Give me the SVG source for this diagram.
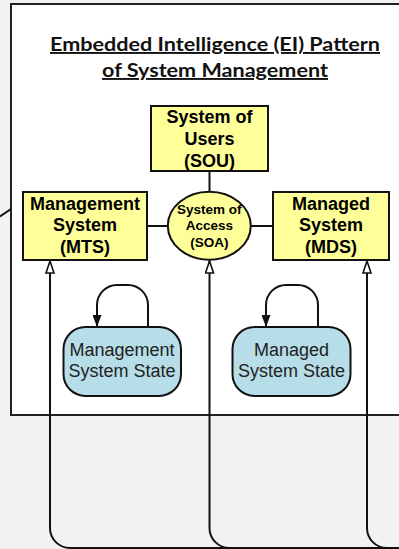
<svg xmlns="http://www.w3.org/2000/svg" width="399" height="549" viewBox="0 0 399 549">
<style>
.box{fill:#ffff99;stroke:#111;stroke-width:2}
.state{fill:#b7dde8;stroke:#111;stroke-width:2}
.bt{font-family:"Liberation Sans",Arial,sans-serif;font-weight:bold;font-size:18px;fill:#000;text-anchor:middle}
.st{font-family:"Liberation Sans",Arial,sans-serif;font-size:18px;fill:#222;text-anchor:middle}
.soa{font-family:"Liberation Sans",Arial,sans-serif;font-weight:bold;font-size:13.5px;fill:#000;text-anchor:middle}
.title{font-family:Lato,"Open Sans",sans-serif;font-weight:bold;font-size:19px;fill:#111;text-anchor:middle;text-decoration:underline}
.ln{fill:none;stroke:#111;stroke-width:2}
</style>
<defs>
<marker id="open" markerUnits="userSpaceOnUse" viewBox="0 0 14 10" refX="13" refY="5" markerWidth="14" markerHeight="10" orient="auto">
<path d="M1,1 L13,5 L1,9 z" fill="#fff" stroke="#111" stroke-width="1.6"/>
</marker>
<marker id="fill" markerUnits="userSpaceOnUse" viewBox="0 0 12 9" refX="12" refY="4.5" markerWidth="12" markerHeight="9" orient="auto">
<path d="M0,0 L12,4.5 L0,9 z" fill="#111"/>
</marker>
</defs>
<rect x="0" y="0" width="399" height="549" fill="#f2f2f2"/>
<g id="frame">
<rect x="11" y="4" width="400" height="411" fill="#fff" stroke="#222" stroke-width="2"/>
<text class="title" x="215" y="51" textLength="330" lengthAdjust="spacingAndGlyphs">Embedded Intelligence (EI) Pattern</text>
<text class="title" x="215" y="77" textLength="226" lengthAdjust="spacingAndGlyphs">of System Management</text>
</g>
<g id="connectors">
<path class="ln" d="M0,216.5 L11,209"/>
<path class="ln" d="M209.5,171 V192"/>
<path class="ln" d="M147,226 H168"/>
<path class="ln" d="M251,226 H273"/>
<path class="ln" d="M420,548 H70 A20,20 0 0 1 50,528 V261" marker-end="url(#open)"/>
<path class="ln" d="M420,548 H229.5 A20,20 0 0 1 209.5,528 V261" marker-end="url(#open)"/>
<path class="ln" d="M420,548 H387 A20,20 0 0 1 367,528 V261" marker-end="url(#open)"/>
<path class="ln" d="M148,327 V305 A20,20 0 0 0 128,285 H117 A20,20 0 0 0 97,305 V327" marker-end="url(#fill)"/>
<path class="ln" d="M318,327 V305 A20,20 0 0 0 298,285 H286 A20,20 0 0 0 266,305 V327" marker-end="url(#fill)"/>
</g>
<g id="sou">
<rect class="box" x="151" y="106" width="117" height="65"/>
<text class="bt" x="209.5" y="123">System of</text>
<text class="bt" x="209.5" y="145">Users</text>
<text class="bt" x="209.5" y="167">(SOU)</text>
</g>
<g id="mts">
<rect class="box" x="23" y="192" width="124" height="68"/>
<text class="bt" x="85" y="209.5">Management</text>
<text class="bt" x="85" y="231">System</text>
<text class="bt" x="85" y="253">(MTS)</text>
</g>
<g id="soa">
<ellipse class="box" cx="209.3" cy="225.7" rx="41.5" ry="34"/>
<text class="soa" x="209.3" y="213.5">System of</text>
<text class="soa" x="209.3" y="229.5">Access</text>
<text class="soa" x="209.3" y="246.5">(SOA)</text>
</g>
<g id="mds">
<rect class="box" x="273" y="192" width="116" height="68"/>
<text class="bt" x="331" y="209.5">Managed</text>
<text class="bt" x="331" y="231">System</text>
<text class="bt" x="331" y="253">(MDS)</text>
</g>
<g id="mts-state">
<rect class="state" x="63.5" y="327" width="117.5" height="69" rx="22"/>
<text class="st" x="122" y="356">Management</text>
<text class="st" x="122" y="377">System State</text>
</g>
<g id="mds-state">
<rect class="state" x="232.5" y="327" width="118" height="69" rx="22"/>
<text class="st" x="291.5" y="356">Managed</text>
<text class="st" x="291.5" y="377">System State</text>
</g>
</svg>
